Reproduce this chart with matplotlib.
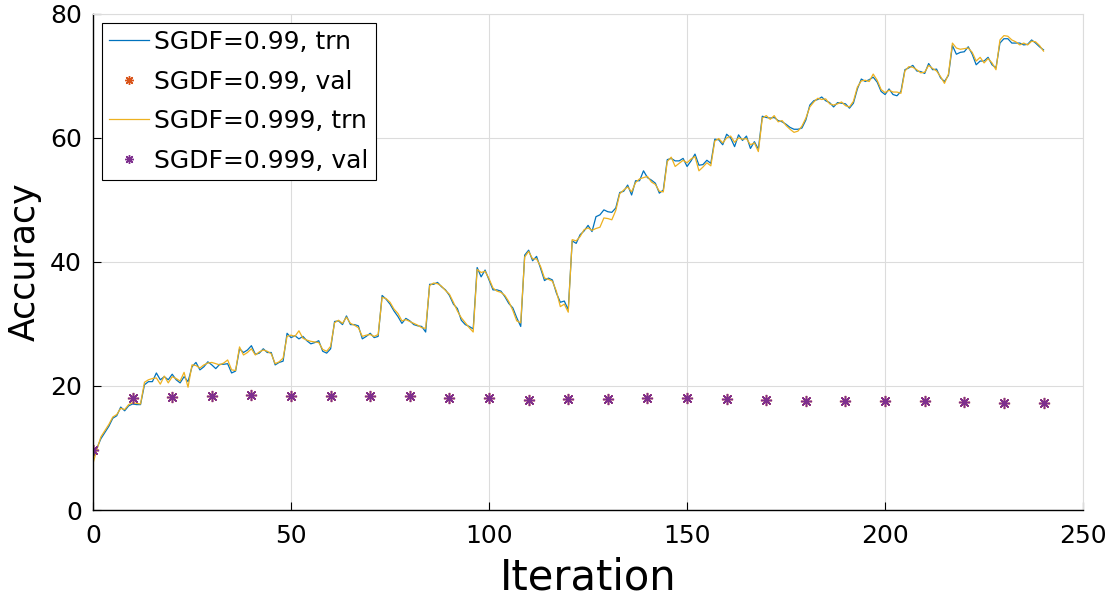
import matplotlib.pyplot as plt

# Training accuracy per iteration (0..240)
trn_099 = [8.3, 10.0, 11.5, 12.5, 13.5, 14.8, 15.2, 16.6, 16.0, 16.8,
           17.1, 17.0, 17.0, 20.2, 20.7, 20.7, 22.1, 21.0, 21.5, 21.0,
           21.9, 21.0, 20.5, 21.5, 20.7, 23.1, 23.8, 22.6, 23.1, 23.9,
           23.4, 22.8, 23.5, 23.5, 23.6, 22.1, 22.4, 26.0, 25.4, 25.8,
           26.5, 25.1, 25.3, 26.0, 25.4, 25.4, 23.4, 23.8, 24.0, 28.5,
           27.8, 28.1, 27.6, 28.0, 27.3, 26.8, 27.0, 27.3, 25.6, 25.3,
           26.0, 30.4, 30.5, 29.9, 31.3, 29.9, 29.9, 29.7, 27.6, 28.0,
           28.5, 27.8, 28.0, 34.6, 34.0, 33.2, 32.1, 31.2, 30.1, 30.9,
           30.5, 29.9, 29.7, 29.6, 28.7, 36.4, 36.4, 36.7, 36.0, 35.5,
           34.6, 33.2, 32.5, 30.6, 29.9, 29.6, 29.2, 39.1, 37.6, 38.7,
           37.1, 35.5, 35.5, 35.3, 34.4, 33.3, 32.6, 31.0, 29.6, 41.1,
           41.9, 40.2, 40.9, 39.0, 37.0, 37.4, 37.1, 35.0, 33.5, 33.7,
           32.3, 43.4, 43.0, 44.4, 45.0, 45.9, 44.9, 47.3, 47.6, 48.4,
           48.1, 48.0, 48.7, 51.2, 51.4, 52.4, 50.8, 53.1, 53.1, 54.7,
           53.6, 53.2, 52.7, 51.1, 51.6, 56.5, 56.7, 56.3, 56.3, 56.7,
           55.4, 56.3, 57.4, 55.6, 55.7, 56.4, 55.9, 59.8, 59.7, 58.9,
           60.6, 60.0, 58.6, 60.5, 59.6, 60.3, 58.3, 59.4, 58.2, 63.5,
           63.3, 63.2, 63.3, 62.8, 62.6, 62.2, 61.7, 61.4, 61.4, 61.6,
           62.9, 65.3, 66.0, 66.2, 66.6, 66.0, 65.7, 65.0, 65.7, 65.6,
           65.5, 64.8, 65.6, 67.9, 69.5, 69.1, 69.4, 69.8, 69.0, 67.5,
           67.0, 67.9, 67.0, 66.8, 67.5, 71.0, 71.3, 71.7, 70.8, 70.7,
           70.4, 72.0, 71.0, 71.1, 69.7, 69.1, 70.1, 74.9, 73.5, 73.8,
           73.9, 74.7, 73.5, 71.8, 72.4, 72.4, 73.0, 71.8, 71.3, 75.3,
           76.0, 76.0, 75.3, 75.3, 75.3, 75.0, 75.1, 75.8, 75.3, 74.7,
           74.2]

trn_0999 = [7.5, 9.8, 11.8, 12.8, 13.8, 15.0, 15.4, 16.4, 16.2, 17.0,
            17.3, 17.2, 17.1, 20.6, 21.0, 21.2, 21.3, 20.3, 21.6, 20.5,
            21.5, 21.2, 20.8, 22.2, 19.8, 23.4, 23.3, 22.9, 23.4, 23.7,
            23.8, 23.6, 23.4, 23.7, 24.2, 22.6, 22.5, 26.3, 25.0, 25.4,
            26.0, 25.0, 25.5, 25.8, 25.6, 25.2, 23.6, 23.9, 24.5, 28.0,
            28.2, 28.0, 28.9, 27.7, 27.4, 27.2, 27.1, 27.0, 25.9, 25.6,
            26.4, 30.2, 30.6, 30.1, 31.1, 30.1, 29.8, 29.4, 28.0, 28.2,
            28.3, 28.0, 28.3, 34.3, 34.1, 33.5, 32.4, 31.7, 30.5, 30.7,
            30.4, 30.1, 29.8, 29.4, 29.3, 36.2, 36.6, 36.5, 36.1, 35.4,
            34.8, 33.5, 32.1, 31.0, 30.2, 29.4, 28.7, 38.8, 38.3, 38.5,
            37.3, 35.8, 35.3, 35.1, 34.6, 33.6, 32.2, 30.5, 30.2, 40.8,
            41.7, 40.5, 40.5, 39.3, 37.4, 37.2, 36.9, 35.3, 32.8, 33.2,
            31.9, 43.6, 43.4, 44.1, 45.2, 45.5, 45.1, 45.4, 45.6, 47.1,
            47.0, 46.8, 48.3, 51.0, 51.6, 52.1, 51.3, 52.8, 53.4, 53.6,
            53.8, 52.9, 52.5, 51.4, 51.3, 56.2, 56.9, 55.4, 55.9, 56.4,
            56.0, 56.6, 57.0, 54.7, 55.3, 56.0, 55.5, 59.5, 59.9, 59.2,
            60.0, 60.3, 59.3, 60.0, 59.8, 59.9, 58.9, 59.2, 57.8, 63.2,
            63.6, 63.0, 63.6, 62.6, 62.8, 62.0, 61.4, 60.9, 61.1, 61.9,
            63.2, 65.0, 65.8, 66.4, 66.2, 66.3, 65.5, 65.3, 65.5, 65.8,
            65.2, 65.0, 65.9, 68.2, 69.2, 69.3, 69.1, 70.3, 69.3, 67.8,
            67.3, 67.7, 67.4, 67.4, 67.2, 70.8, 71.5, 71.4, 71.0, 70.5,
            70.6, 71.7, 71.2, 70.8, 69.9, 68.8, 70.3, 75.3, 74.5, 74.3,
            74.4, 74.5, 73.8, 72.4, 73.0, 72.1, 72.8, 72.1, 71.0, 75.8,
            76.5, 76.4, 75.8, 75.5, 75.0, 75.3, 75.0, 75.6, 75.5, 74.9,
            74.0]

# Validation accuracy, every 10 iterations
val_iter = [0, 10, 20, 30, 40, 50, 60, 70, 80, 90, 100, 110, 120,
            130, 140, 150, 160, 170, 180, 190, 200, 210, 220, 230, 240]
val_099 = [9.7, 18.0, 18.3, 18.4, 18.5, 18.4, 18.4, 18.4, 18.4, 18.1,
           18.0, 17.7, 17.9, 17.9, 18.0, 18.0, 17.9, 17.7, 17.6, 17.6,
           17.5, 17.5, 17.4, 17.3, 17.3]
val_0999 = [9.7, 18.0, 18.3, 18.4, 18.5, 18.4, 18.4, 18.4, 18.4, 18.1,
            18.0, 17.8, 17.9, 17.9, 18.0, 18.0, 17.9, 17.7, 17.6, 17.6,
            17.5, 17.5, 17.4, 17.3, 17.3]

iters = list(range(len(trn_099)))

# MATLAB default colours
c_blue = (0.0, 0.447, 0.741)
c_orange = (0.85, 0.325, 0.098)
c_yellow = (0.929, 0.694, 0.125)
c_purple = (0.494, 0.184, 0.556)

plt.rcParams['font.family'] = ['DejaVu Sans']

fig = plt.figure(figsize=(11.15, 6.05), dpi=100)
ax = fig.add_axes([0.0834, 0.157, 0.888, 0.820])

ax.plot(iters, trn_099, color=c_blue, lw=0.9, label='SGDF=0.99, trn')
ax.plot(val_iter, val_099, ls='none', marker=(8, 2, 0), ms=8, mew=1.0,
        color=c_orange, label='SGDF=0.99, val')
ax.plot(iters, trn_0999, color=c_yellow, lw=0.9, label='SGDF=0.999, trn')
ax.plot(val_iter, val_0999, ls='none', marker=(8, 2, 0), ms=8, mew=1.0,
        color=c_purple, label='SGDF=0.999, val')

ax.set_xlim(0, 250)
ax.set_ylim(0, 80)
ax.set_xticks([0, 50, 100, 150, 200, 250])
ax.set_yticks([0, 20, 40, 60, 80])
ax.tick_params(direction='in', length=6, width=0.8, labelsize=18,
               top=False, right=False)
ax.tick_params(axis='x', pad=10)
ax.tick_params(axis='y', pad=8)

# MATLAB-like box: black left/bottom, light top/right
ax.grid(True, color='#dcdcdc', lw=0.8)
ax.set_axisbelow(True)
for s in ['top', 'right']:
    ax.spines[s].set_color('#dcdcdc')
for s in ['left', 'bottom']:
    ax.spines[s].set_color('black')
    ax.spines[s].set_linewidth(1.0)

ax.set_xlabel('Iteration', fontsize=30, labelpad=6)
ax.set_ylabel('Accuracy', fontsize=25, labelpad=6)

leg = ax.legend(loc='upper left', fontsize=18, frameon=True, fancybox=False,
                framealpha=1, edgecolor='black', borderaxespad=0.35,
                handlelength=1.6, handletextpad=0.2, labelspacing=0.62,
                borderpad=0.3, markerscale=0.8)
leg.get_frame().set_linewidth(0.8)

plt.savefig('out.png', dpi=100)
